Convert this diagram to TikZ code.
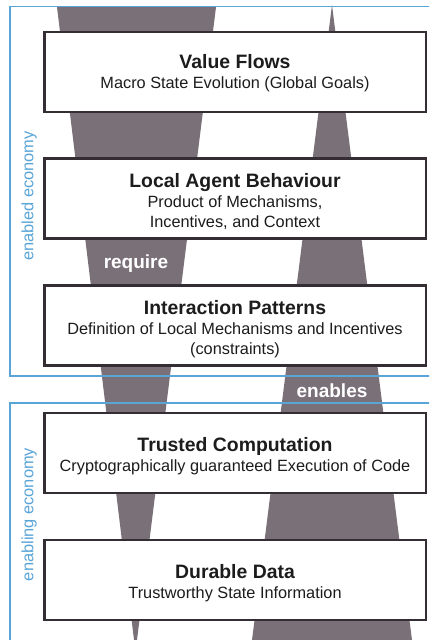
\documentclass[tikz,border=0pt]{standalone}
\usepackage{fontspec}
\setmainfont{Liberation Sans}

\definecolor{flowgray}{RGB}{122,112,119}
\definecolor{frameblue}{RGB}{90,165,216}
\definecolor{boxline}{RGB}{52,46,52}
\definecolor{ink}{RGB}{28,28,28}

\newcommand\headfont{\bfseries\fontsize{19.4}{20}\selectfont}
\newcommand\bodyfont{\fontsize{16.3}{20}\selectfont}

\begin{document}
\begin{tikzpicture}[x=1pt, y=-1pt,
  layerbox/.style={draw=boxline, line width=2.6pt, fill=white,
    minimum width=381.4pt, minimum height=80pt, inner sep=0pt},
  layertext/.style={anchor=north, align=center, inner sep=0pt,
    text=ink, font=\bodyfont},
  funnel/.style={fill=flowgray},
  frame/.style={draw=frameblue, line width=1.8pt},
  flowlabel/.style={anchor=base, inner sep=0pt, text=white,
    font=\bfseries\fontsize{19}{20}\selectfont},
  sidelabel/.style={anchor=base, rotate=90, inner sep=0pt, text=frameblue,
    font=\fontsize{16.4}{18}\selectfont},
]
\clip (0,0) rectangle (429,640);
\fill[white] (0,0) rectangle (429,640);

% the two flows running through the layers
\fill[funnel] (57,7) -- (216,7) -- (135.5,652) -- cycle;
\fill[funnel] (332,5) -- (414.5,660) -- (249.5,660) -- cycle;

% economy frames
\draw[frame] (440,6.5) -- (10,6.5) -- (10,375.7) -- (440,375.7);
\draw[frame] (440,402.7) -- (10,402.7) -- (10,660);

% layers
\node[layerbox] (flows)   at (235.3,72)    {};
\node[layerbox] (agents)  at (235.3,198.6) {};
\node[layerbox] (pattern) at (235.3,325.6) {};
\node[layerbox] (compute) at (235.3,452.8) {};
\node[layerbox] (data)    at (235.3,580)   {};

\node[layertext] (flows-t)   at (235,54)  {{\headfont Value Flows}\\[0.7pt]Macro State Evolution (Global Goals)};
\node[layertext] (agents-t)  at (235,173) {{\headfont Local Agent Behaviour}\\[0pt]Product of Mechanisms,\\Incentives, and Context};
\node[layertext] (pattern-t) at (235,300) {{\headfont Interaction Patterns}\\[0pt]Definition of Local Mechanisms and Incentives\\(constraints)};
\node[layertext] (compute-t) at (235,437) {{\headfont Trusted Computation}\\[0.7pt]Cryptographically guaranteed Execution of Code};
\node[layertext] (data-t)    at (235,564) {{\headfont Durable Data}\\[0.5pt]Trustworthy State Information};

% flow labels
\node[flowlabel] (require) at (136,268) {require};
\node[flowlabel] (enables) at (332,397) {enables};

% frame labels
\node[sidelabel] (enabled)  at (33.3,196)   {enabled economy};
\node[sidelabel] (enabling) at (33.3,514.5) {enabling economy};
\end{tikzpicture}
\end{document}
